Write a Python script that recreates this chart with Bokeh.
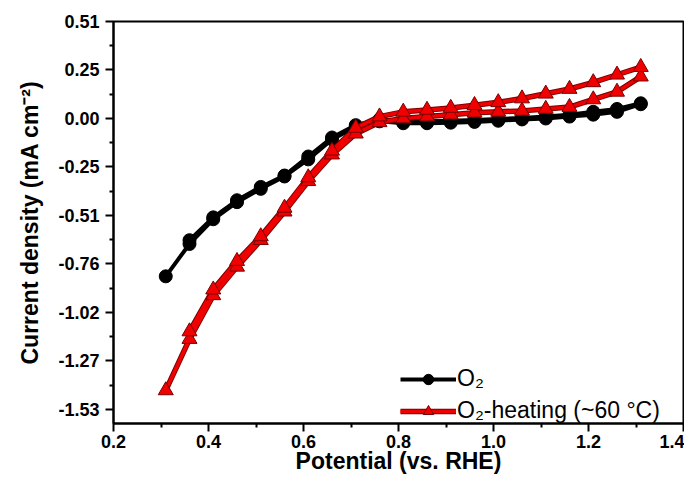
from bokeh.plotting import figure
from bokeh.models import FixedTicker, Legend, LegendItem
from bokeh.embed import file_html
from bokeh.resources import INLINE

# potentials (V vs RHE): forward sweep then reverse sweep
potential_fwd = [0.31, 0.36, 0.41, 0.46, 0.51, 0.56, 0.61, 0.66, 0.71, 0.76, 0.81,
                 0.86, 0.91, 0.96, 1.01, 1.06, 1.11, 1.16, 1.21, 1.26, 1.31]
potential_rev = [1.31, 1.26, 1.21, 1.16, 1.11, 1.06, 1.01, 0.96, 0.91, 0.86, 0.81,
                 0.76, 0.71, 0.66, 0.61, 0.56, 0.51, 0.46, 0.41, 0.36]

o2_fwd = [-0.83, -0.66, -0.53, -0.44, -0.37, -0.305, -0.215, -0.11, -0.045, -0.015, -0.025,
          -0.025, -0.022, -0.018, -0.012, -0.005, 0.00, 0.01, 0.02, 0.035, 0.075]
o2_rev = [0.08, 0.05, 0.035, 0.02, 0.01, 0.003, -0.003, -0.008, -0.012, -0.015, -0.015,
          -0.005, -0.035, -0.10, -0.20, -0.30, -0.36, -0.43, -0.52, -0.64]

heat_fwd = [-1.43, -1.16, -0.93, -0.78, -0.64, -0.49, -0.33, -0.19, -0.08, -0.02, 0.00,
            0.01, 0.02, 0.03, 0.035, 0.04, 0.05, 0.06, 0.10, 0.14, 0.22]
heat_rev = [0.27, 0.23, 0.19, 0.155, 0.13, 0.105, 0.085, 0.07, 0.055, 0.045, 0.035,
            0.01, -0.05, -0.17, -0.31, -0.47, -0.62, -0.75, -0.90, -1.12]

x_ticks = [0.2, 0.4, 0.6, 0.8, 1.0, 1.2, 1.4]
x_minor = [0.3, 0.5, 0.7, 0.9, 1.1, 1.3]
x_labels = ["0.2", "0.4", "0.6", "0.8", "1.0", "1.2", "1.4"]
y_ticks = [0.51, 0.255, 0.0, -0.255, -0.51, -0.765, -1.02, -1.275, -1.53]
y_minor = [0.3825, 0.1275, -0.1275, -0.3825, -0.6375, -0.8925, -1.1475, -1.4025]
y_labels = ["0.51", "0.25", "0.00", "-0.25", "-0.51", "-0.76", "-1.02", "-1.27", "-1.53"]

x_o2 = potential_fwd + potential_rev
y_o2 = o2_fwd + o2_rev
x_heat = potential_fwd + potential_rev
y_heat = heat_fwd + heat_rev

FONT = "Liberation Sans"

p = figure(width=684, height=476, x_range=(0.2, 1.4), y_range=(-1.604, 0.51),
           output_backend="svg", toolbar_location=None,
           min_border_left=113, min_border_right=1, min_border_top=21, min_border_bottom=40)

p.xgrid.visible = False
p.ygrid.visible = False
p.outline_line_color = "black"
p.outline_line_width = 2
p.background_fill_color = "white"
p.border_fill_color = "white"

p.xaxis.ticker = FixedTicker(ticks=x_ticks, minor_ticks=x_minor)
p.xaxis.major_label_overrides = {t: l for t, l in zip(x_ticks, x_labels)}
p.yaxis.ticker = FixedTicker(ticks=y_ticks, minor_ticks=y_minor)
p.yaxis.major_label_overrides = {t: l for t, l in zip(y_ticks, y_labels)}

p.xaxis.axis_label = "Potential (vs. RHE)"
p.yaxis.axis_label = "Current density (mA cm\u207b\u00b2)"

for ax in (p.xaxis, p.yaxis):
    ax.axis_line_width = 2
    ax.axis_line_color = "black"
    ax.major_tick_line_width = 2
    ax.minor_tick_line_width = 2
    ax.major_tick_out = 8
    ax.major_tick_in = 0
    ax.minor_tick_out = 4
    ax.minor_tick_in = 0
    ax.major_label_text_font = FONT
    ax.major_label_text_font_style = "bold"
    ax.major_label_text_font_size = "18px"
    ax.major_label_text_color = "black"
    ax.axis_label_text_font = FONT
    ax.axis_label_text_font_style = "bold"
    ax.axis_label_text_font_size = "23px"
    ax.axis_label_text_color = "black"

p.xaxis.major_label_standoff = 3
p.xaxis.axis_label_standoff = -3
p.yaxis.major_label_standoff = 6
p.yaxis.axis_label_standoff = 12

# O2 series
l_o2 = p.line(x_o2, y_o2, line_color="black", line_width=4)
s_o2 = p.scatter(x_o2, y_o2, marker="circle", size=13, fill_color="black", line_color="black")

# O2-heating series
l_h_edge = p.line(x_heat, y_heat, line_color="#7a0000", line_width=5.5)
l_h = p.line(x_heat, y_heat, line_color="#f00000", line_width=3.5)
s_h = p.scatter(x_heat, y_heat, marker="triangle", size=15, fill_color="#f00000",
                line_color="#7a0000", line_width=1)

legend = Legend(items=[
    LegendItem(label="O\u2082", renderers=[l_o2, s_o2]),
    LegendItem(label="O\u2082-heating (~60 \u00b0C)", renderers=[l_h_edge, l_h, s_h]),
], location=(287, -1))
legend.border_line_color = None
legend.background_fill_alpha = 0
legend.label_text_font = FONT
legend.label_text_font_size = "23px"
legend.label_text_color = "black"
legend.glyph_width = 56
legend.glyph_height = 26
legend.label_height = 26
legend.spacing = 5
legend.padding = 0
legend.margin = 0
legend.label_standoff = 1
p.add_layout(legend)

open("out.html", "w").write(file_html(p, INLINE))
